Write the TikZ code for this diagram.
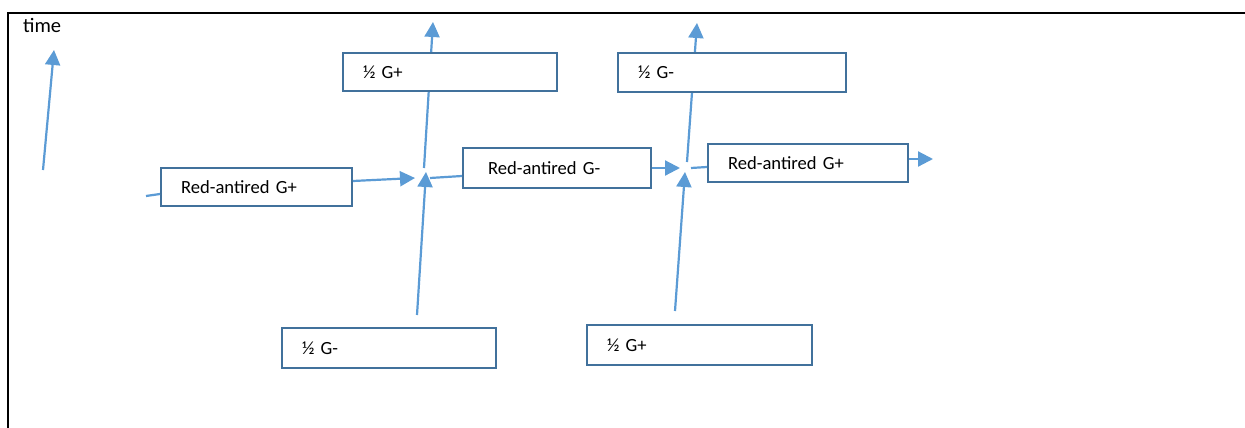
\documentclass[tikz,border=0pt]{standalone}
\usepackage{fontspec}
\setmainfont{Carlito}
\usetikzlibrary{arrows.meta}
\definecolor{arrblue}{HTML}{5B9BD5}
\definecolor{boxblue}{HTML}{41719C}
\tikzset{
  boxnode/.style={draw=boxblue, line width=2pt, fill=white, rectangle,
    inner xsep=20pt, inner ysep=0pt, align=left,
    font=\fontsize{18.6}{22}\selectfont},
  conn/.style={draw=arrblue, line width=2.2pt},
  arr/.style={conn, -{Triangle[length=15pt,width=15pt]}},
  frameline/.style={draw=black, line width=2.2pt}
}
\begin{document}
\begin{tikzpicture}[x=1pt,y=-1pt]
\useasboundingbox (0,0) rectangle (1245,428);
% frame
\draw[frameline] (8,428) -- (8,13) -- (1245,13);
\node[anchor=base west, inner sep=0pt, font=\fontsize{20.5}{24}\selectfont] (timelbl) at (23,33) {time};

% free-end coordinates
\coordinate (t0) at (43,170);
\coordinate (t1) at (54,50);
\coordinate (in0) at (146,196);
\coordinate (j1L) at (415,178);
\coordinate (j1B) at (417,315);
\coordinate (j1U) at (426,172);
\coordinate (j1T) at (424,168);
\coordinate (top1) at (433,22);
\coordinate (j1R) at (430,178);
\coordinate (j2L) at (680,168);
\coordinate (j2B) at (675,311);
\coordinate (j2U) at (685,172);
\coordinate (j2T) at (687,162);
\coordinate (top2) at (697,23);
\coordinate (j2R) at (691,168);
\coordinate (out) at (933,159);

% connectors drawn first (boxes cover them)
\draw[arr] (t0) -- (t1);
\draw[arr] (j1B) -- (j1U);
\draw[arr] (j1T) -- (top1);
\draw[arr] (j2B) -- (j2U);
\draw[arr] (j2T) -- (top2);

% boxes
\node[boxnode, text width=151pt, minimum height=38pt] (b1) at (256.5,187) {Red-antired G+};
\node[boxnode, text width=174pt, minimum height=38pt] (b2) at (450,72) {½ G+};
\node[boxnode, text width=148pt, minimum height=40pt] (b3) at (557,168) {\hspace*{5pt}Red-antired G-};
\node[boxnode, text width=188pt, minimum height=39pt] (b4) at (732,72.5) {½ G-};
\node[boxnode, text width=160pt, minimum height=38pt] (b5) at (808,163) {Red-antired G+};
\node[boxnode, text width=174pt, minimum height=40pt] (b6) at (389,348) {½ G-};
\node[boxnode, text width=185pt, minimum height=40pt] (b7) at (699.5,345) {½ G+};

% horizontal connectors
\draw[conn] (in0) -- ([yshift=-7pt]b1.west);
\draw[arr] ([yshift=6pt]b1.east) -- (j1L);
\draw[conn] (j1R) -- ([yshift=-8pt]b3.west);
\draw[arr] (b3.east) -- (j2L);
\draw[conn] (j2R) -- ([yshift=-4pt]b5.west);
\draw[arr] ([yshift=4pt]b5.east) -- (out);
\end{tikzpicture}
\end{document}
